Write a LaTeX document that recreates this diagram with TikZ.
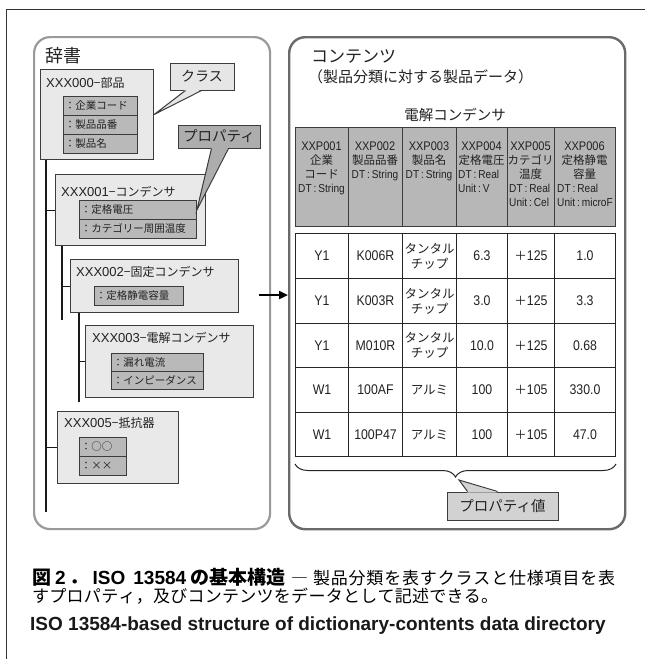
\documentclass[tikz,border=0pt]{standalone}
\usepackage{fontspec}
\setmainfont{Noto Sans CJK JP}
\newfontfamily\latf{Liberation Sans}
\newfontfamily\latcf{Liberation Sans}[FakeStretch=0.88]
\usetikzlibrary{calc,decorations.pathreplacing,arrows.meta}
\definecolor{panelLc}{HTML}{9A9A9A}
\definecolor{panelRc}{HTML}{6A6A6A}
\definecolor{boxfill}{HTML}{E9E9E9}
\definecolor{propfill}{HTML}{B9B9B9}
\definecolor{hdrfill}{HTML}{B7B7B7}
\definecolor{edgec}{HTML}{3C3C3C}
\definecolor{clsfill}{HTML}{E6E6E6}
\definecolor{prpfill}{HTML}{ADADAD}
\definecolor{valfill}{HTML}{D2D2D2}
\definecolor{inkc}{HTML}{222222}
\newcommand\numtxt[1]{{\latcf\fontsize{14}{16}\selectfont #1}}
\newcommand\hdcode[1]{{\latcf\fontsize{12.5}{14}\selectfont #1}}
\newcommand\hddt[1]{{\latcf\fontsize{11.5}{14}\selectfont #1}}
\newcommand\ttllat[1]{{\latf\fontsize{13}{15}\selectfont #1}}
\newcommand\hlc[4]{\node[hdtxt,anchor=base] (#1) at (#2,#3+4.5) {#4};}
\newcommand\hll[4]{\node[hdtxt,anchor=base west] (#1) at (#2,#3+4.5) {#4};}
\newcommand\prow[6]{\pgfmathsetmacro\prowtw{#4-3}\node[prow,text width=\prowtw pt,minimum height=#5] (#1) at (#2,#3) {#6};}
\begin{document}
\begin{tikzpicture}[x=1pt,y=-1pt,
  framel/.style={draw=black!80,line width=0.9pt},
  panelL/.style={draw=panelLc,line width=2.2pt,rounded corners=16pt,inner sep=0,anchor=north west},
  panelR/.style={draw=panelRc,line width=2.4pt,rounded corners=16pt,inner sep=0,anchor=north west},
  clsbox/.style={draw=edgec,fill=boxfill,line width=1.1pt,inner sep=0,anchor=north west},
  ttl/.style={anchor=west,inner sep=0,text=inkc,font=\fontsize{12}{14}\selectfont},
  prow/.style={draw=edgec,fill=propfill,line width=0.9pt,anchor=north west,inner xsep=1.5pt,inner ysep=0pt,align=left,text=inkc,font=\fontsize{10.5}{12}\selectfont},
  tree/.style={draw=black!90,line width=1.1pt},
  callout/.style={draw=edgec,line width=1pt,inner sep=0,text=inkc,font=\fontsize{14}{16}\selectfont},
  ptr/.style={draw=edgec,line width=1pt,line join=miter},
  hcell/.style={draw=edgec,fill=hdrfill,line width=1pt,anchor=north west,minimum height=99,inner sep=0},
  bcell/.style={draw=black!85,fill=white,line width=1pt,anchor=north west,inner sep=0,align=center,text=inkc,font=\fontsize{12.5}{15}\selectfont},
  hdtxt/.style={inner sep=0,text=inkc,font=\fontsize{11.5}{14}\selectfont},
  bigarrow/.style={draw=black,line width=2.6pt,-{Triangle[length=9pt,width=8pt]}},
  bracel/.style={draw=black!85,line width=1pt,decorate,decoration={brace,amplitude=13pt}}
]
\useasboundingbox[fill=white] (0,0) rectangle (645,659);
\draw[framel] (6,659) -- (6,9) -- (645,9);

% ---------- left panel: dictionary ----------
\node[panelL,minimum width=236,minimum height=492] (dict) at (33,36) {};
\node[anchor=west,inner sep=0,text=inkc,font=\fontsize{18}{20}\selectfont] (dictT) at (45,56) {辞書};

\node[clsbox,minimum width=113,minimum height=90] (c0) at (40,69) {};
\node[ttl] (c0t) at (46,83) {\ttllat{XXX000}−部品};
\prow{p00}{63}{96}{74}{19}{：企業コード}
\prow{p01}{63}{115}{74}{19}{：製品品番}
\prow{p02}{63}{134}{74}{19}{：製品名}

\node[clsbox,minimum width=150,minimum height=71] (c1) at (55,174) {};
\node[ttl] (c1t) at (61,192) {\ttllat{XXX001}−コンデンサ};
\prow{p10}{79}{200}{117}{19}{：定格電圧}
\prow{p11}{79}{219}{117}{19}{：カテゴリー周囲温度}

\node[clsbox,minimum width=168,minimum height=53] (c2) at (70,259) {};
\node[ttl] (c2t) at (76,272) {\ttllat{XXX002}−固定コンデンサ};
\prow{p20}{94}{286}{89}{19}{：定格静電容量}

\node[clsbox,minimum width=168,minimum height=72] (c3) at (85,325) {};
\node[ttl] (c3t) at (92,338) {\ttllat{XXX003}−電解コンデンサ};
\prow{p30}{111}{353}{92}{18}{：漏れ電流}
\prow{p31}{111}{371}{92}{18}{：インピーダンス}

\node[clsbox,minimum width=121,minimum height=72] (c5) at (57,411) {};
\node[ttl] (c5t) at (64,423) {\ttllat{XXX005}−抵抗器};
\prow{p50}{79}{437}{47}{19}{：○○}
\prow{p51}{79}{456}{47}{19}{：××}

% tree connectors
\coordinate (v1end) at (46,512);
\coordinate (v2end) at (62,320);
\coordinate (v3end) at (79,402);
\draw[tree] (c0.south -| v1end) -- (v1end);
\draw[tree] (c1.west -| v1end) -- (c1.west);
\draw[tree] (c5.west -| v1end) -- (c5.west);
\draw[tree] (c1.south -| v2end) -- (v2end);
\draw[tree] (c2.west -| v2end) -- (c2.west);
\draw[tree] (c2.south -| v3end) -- (v3end);
\draw[tree] (c3.west -| v3end) -- (c3.west);

% callouts
\node[callout,fill=clsfill,minimum width=64,minimum height=27] (cls) at (202,76.5) {クラス};
\fill[clsfill] ($(cls.south west)+(16,-1.2)$) -- (c0.east) -- ($(cls.south west)+(32,-1.2)$) -- cycle;
\draw[ptr] ($(cls.south west)+(16,0)$) -- (c0.east) -- ($(cls.south west)+(32,0)$);

\node[callout,fill=prpfill,minimum width=82,minimum height=23,font=\fontsize{14.5}{16}\selectfont] (prp) at (219,136.5) {プロパティ};
\fill[prpfill] ($(prp.south west)+(34,-1.2)$) -- (p10.east) -- ($(prp.south west)+(51,-1.2)$) -- cycle;
\draw[ptr] ($(prp.south west)+(34,0)$) -- (p10.east) -- ($(prp.south west)+(51,0)$);

% ---------- right panel: contents ----------
\node[panelR,minimum width=336,minimum height=492] (cont) at (288,36) {};
\node[anchor=west,inner sep=0,text=inkc,font=\fontsize{17}{19}\selectfont] (contT) at (311,57) {コンテンツ};
\node[anchor=west,inner sep=0,text=inkc,font=\fontsize{15}{17}\selectfont] (contS) at (308,77) {（製品分類に対する製品データ）};
\node[inner sep=0,text=inkc,font=\fontsize{14.5}{16}\selectfont] (tblT) at (455,115) {電解コンデンサ};

% arrow
\coordinate (arrS) at (259,295);
\draw[bigarrow] (arrS) -- (arrS -| cont.west);

% header cells
\node[hcell,minimum width=53] (h1) at (295,127) {};
\node[hcell,minimum width=54] (h2) at (348,127) {};
\node[hcell,minimum width=54] (h3) at (402,127) {};
\node[hcell,minimum width=51] (h4) at (456,127) {};
\node[hcell,minimum width=47] (h5) at (507,127) {};
\node[hcell,minimum width=61] (h6) at (554,127) {};

\hlc{h1a}{321.5}{146}{\hdcode{XXP001}}
\hlc{h1b}{321.5}{160}{企業}
\hlc{h1c}{321.5}{174}{コード}
\hlc{h1d}{321.5}{188}{\hddt{DT\,:\,String}}
\hlc{h2a}{375}{146}{\hdcode{XXP002}}
\hlc{h2b}{375}{160}{製品品番}
\hlc{h2c}{375}{174}{\hddt{DT\,:\,String}}
\hlc{h3a}{429}{146}{\hdcode{XXP003}}
\hlc{h3b}{429}{160}{製品名}
\hlc{h3c}{429}{174}{\hddt{DT\,:\,String}}
\hlc{h4a}{481.5}{146}{\hdcode{XXP004}}
\hlc{h4b}{481.5}{160}{定格電圧}
\hll{h4c}{458}{174}{\hddt{DT\,:\,Real}}
\hll{h4d}{458}{188}{\hddt{Unit\,:\,V}}
\hlc{h5a}{530.5}{146}{\hdcode{XXP005}}
\hlc{h5b}{530.5}{160}{カテゴリ}
\hlc{h5c}{530.5}{174}{温度}
\hll{h5d}{509}{188}{\hddt{DT\,:\,Real}}
\hll{h5e}{509}{202}{\hddt{Unit\,:\,Cel}}
\hlc{h6a}{584.5}{146}{\hdcode{XXP006}}
\hlc{h6b}{584.5}{160}{定格静電}
\hlc{h6c}{584.5}{174}{容量}
\hll{h6d}{557}{188}{\hddt{DT\,:\,Real}}
\hll{h6e}{557}{202}{\hddt{Unit\,:\,microF}}

% body cells
\node[bcell,minimum width=53,minimum height=45] (r1c1) at (295,233) {\numtxt{Y1}};
\node[bcell,minimum width=54,minimum height=45] (r1c2) at (348,233) {\numtxt{K006R}};
\node[bcell,minimum width=54,minimum height=45] (r1c3) at (402,233) {タンタル\\チップ};
\node[bcell,minimum width=51,minimum height=45] (r1c4) at (456,233) {\numtxt{6.3}};
\node[bcell,minimum width=47,minimum height=45] (r1c5) at (507,233) {＋\numtxt{125}};
\node[bcell,minimum width=61,minimum height=45] (r1c6) at (554,233) {\numtxt{1.0}};

\node[bcell,minimum width=53,minimum height=45] (r2c1) at (295,278) {\numtxt{Y1}};
\node[bcell,minimum width=54,minimum height=45] (r2c2) at (348,278) {\numtxt{K003R}};
\node[bcell,minimum width=54,minimum height=45] (r2c3) at (402,278) {タンタル\\チップ};
\node[bcell,minimum width=51,minimum height=45] (r2c4) at (456,278) {\numtxt{3.0}};
\node[bcell,minimum width=47,minimum height=45] (r2c5) at (507,278) {＋\numtxt{125}};
\node[bcell,minimum width=61,minimum height=45] (r2c6) at (554,278) {\numtxt{3.3}};

\node[bcell,minimum width=53,minimum height=44] (r3c1) at (295,323) {\numtxt{Y1}};
\node[bcell,minimum width=54,minimum height=44] (r3c2) at (348,323) {\numtxt{M010R}};
\node[bcell,minimum width=54,minimum height=44] (r3c3) at (402,323) {タンタル\\チップ};
\node[bcell,minimum width=51,minimum height=44] (r3c4) at (456,323) {\numtxt{10.0}};
\node[bcell,minimum width=47,minimum height=44] (r3c5) at (507,323) {＋\numtxt{125}};
\node[bcell,minimum width=61,minimum height=44] (r3c6) at (554,323) {\numtxt{0.68}};

\node[bcell,minimum width=53,minimum height=45] (r4c1) at (295,367) {\numtxt{W1}};
\node[bcell,minimum width=54,minimum height=45] (r4c2) at (348,367) {\numtxt{100AF}};
\node[bcell,minimum width=54,minimum height=45] (r4c3) at (402,367) {アルミ};
\node[bcell,minimum width=51,minimum height=45] (r4c4) at (456,367) {\numtxt{100}};
\node[bcell,minimum width=47,minimum height=45] (r4c5) at (507,367) {＋\numtxt{105}};
\node[bcell,minimum width=61,minimum height=45] (r4c6) at (554,367) {\numtxt{330.0}};

\node[bcell,minimum width=53,minimum height=44] (r5c1) at (295,412) {\numtxt{W1}};
\node[bcell,minimum width=54,minimum height=44] (r5c2) at (348,412) {\numtxt{100P47}};
\node[bcell,minimum width=54,minimum height=44] (r5c3) at (402,412) {アルミ};
\node[bcell,minimum width=51,minimum height=44] (r5c4) at (456,412) {\numtxt{100}};
\node[bcell,minimum width=47,minimum height=44] (r5c5) at (507,412) {＋\numtxt{105}};
\node[bcell,minimum width=61,minimum height=44] (r5c6) at (554,412) {\numtxt{47.0}};

% brace + property value callout
\draw[bracel] ($(r5c6.south east)+(0,7)$) -- ($(r5c1.south west)+(0,7)$);
\coordinate (pvTip) at (459,480);
\node[callout,fill=valfill,minimum width=111,minimum height=28,font=\fontsize{14.5}{16}\selectfont] (pval) at (502.5,506) {プロパティ値};
\fill[valfill] ($(pval.north west)+(21,1.2)$) -- (pvTip) -- ($(pval.north west)+(51,1.2)$) -- cycle;
\draw[ptr] ($(pval.north west)+(21,0)$) -- (pvTip) -- ($(pval.north west)+(51,0)$);

% ---------- caption ----------
\node[anchor=base west,inner sep=0,text=black,font=\fontsize{17}{20}\selectfont] (cap1) at (32,584.5)
 {\hbox to 583pt{\hbox to 253pt{\bfseries\fontsize{19}{21}\selectfont 図\hfil{\latf 2}\hfil ．\hfil{\latf ISO}\hfil\hfil{\latf 13584}\hfil の基本構造}\hspace{6pt}―\hspace{4pt}\hfill 製\hfill 品\hfill 分\hfill 類\hfill を\hfill 表\hfill す\hfill ク\hfill ラ\hfill ス\hfill と\hfill 仕\hfill 様\hfill 項\hfill 目\hfill を\hfill 表}};
\node[anchor=base west,inner sep=0,text=black,font=\fontsize{17}{20}\selectfont] (cap2) at (32,602.5)
 {\hbox to 466pt{す\hfill プ\hfill ロ\hfill パ\hfill テ\hfill ィ\hfill ，\hfill 及\hfill び\hfill コ\hfill ン\hfill テ\hfill ン\hfill ツ\hfill を\hfill デ\hfill ー\hfill タ\hfill と\hfill し\hfill て\hfill 記\hfill 述\hfill で\hfill き\hfill る\hfill 。}};
\node[anchor=base west,inner sep=0,text=black!90,font=\latf\bfseries\fontsize{19}{22}\selectfont] (cap3) at (30,630)
 {ISO 13584-based structure of dictionary-contents data directory};
\end{tikzpicture}
\end{document}
